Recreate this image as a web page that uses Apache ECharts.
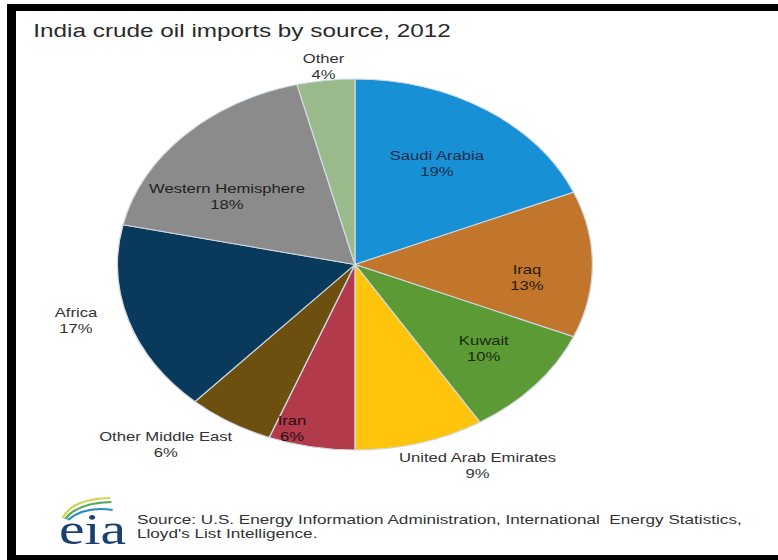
<!DOCTYPE html>
<html><head><meta charset="utf-8">
<script src="https://cdn.jsdelivr.net/npm/echarts@6/dist/echarts.min.js"></script>
<style>
html,body{margin:0;padding:0;background:#fff;}
#wrap{position:relative;width:778px;height:560px;overflow:hidden;background:#fff;}
#chart{position:absolute;left:0;top:0;width:608px;height:560px;transform:scaleX(1.28);transform-origin:0 0;}
.bar{position:absolute;background:#000;}
</style></head><body>
<div id="wrap"><div id="chart"></div>
<div class="bar" style="left:7px;top:4px;width:771px;height:7px"></div>
<div class="bar" style="left:7px;top:4px;width:9px;height:556px"></div>
<div class="bar" style="left:7px;top:555px;width:771px;height:5px"></div>
</div>
<script>
// ---- data ----
const categories = ['Saudi Arabia','Iraq','Kuwait','United Arab Emirates','Iran','Other Middle East','Africa','Western Hemisphere','Other'];
const shares = [19, 13, 10, 9, 6, 6, 17, 18, 4];
const titleText = 'India crude oil imports by source, 2012';
const sourceText = "Source: U.S. Energy Information Administration, International  Energy Statistics,\nLloyd's List Intelligence.";

// ---- styles ----
const colors = ['#1790d5','#c2762c','#5c9a35','#ffc40c','#b23a4b','#6d5010','#0a3a5b','#8b8b8b','#9aba8b'];
const labelColors = ['#1c2d4a','#2a1a0a','#1a2a10','#333','#2a1010','#333','#333','#222','#333'];
const labelRadius = [0.647, 0.728, 0.704, 1.20, 0.923, 1.254, 1.212, 0.652, 1.075];
const labelShift = [-1.3, 5.5, -1, -9.6, 6.1, 7.7, 3.4, -9.9, 0];
const CX = 277.3, CY = 264.5, R = 185.5;

const total = shares.reduce((a, b) => a + b, 0);
const mids = []; let acc = 0;
shares.forEach(v => { mids.push(acc + v / 2); acc += v; });

const chart = echarts.init(document.getElementById('chart'), null, {renderer: 'svg'});
chart.setOption({
  animation: false,
  backgroundColor: '#fff',
  title: {
    text: titleText, left: 21, top: 16,
    textStyle: {fontSize: 19, fontWeight: 'normal', color: '#2a2a2a', fontFamily: 'Liberation Sans, Arial, sans-serif'}
  },
  series: [{
    type: 'pie',
    center: [CX, CY],
    radius: [0, R],
    startAngle: 90,
    clockwise: true,
    avoidLabelOverlap: false,
    silent: true,
    itemStyle: {borderColor: '#cfd9e2', borderWidth: 1},
    label: {
      show: true, position: 'inside', formatter: '{b}\n{c}%',
      fontSize: 13, lineHeight: 16, fontFamily: 'Liberation Sans, Arial, sans-serif', color: '#222'
    },
    labelLine: {show: false},
    labelLayout: function (p) {
      const i = p.dataIndex;
      const ang = (mids[i] / total * 360 + labelShift[i]) * Math.PI / 180;
      const r = labelRadius[i] * R;
      return {x: CX + r * Math.sin(ang), y: CY - r * Math.cos(ang), align: 'center', verticalAlign: 'middle'};
    },
    data: categories.map((c, i) => ({
      name: c, value: shares[i],
      itemStyle: {color: colors[i]},
      label: {color: labelColors[i]}
    }))
  }],
  graphic: [
    {type: 'text', left: 107, top: 512, style: {text: sourceText, fontSize: 13.4, lineHeight: 14, fill: '#333', fontFamily: 'Liberation Sans, Arial, sans-serif'}},
    {type: 'text', x: 46, y: 529, style: {text: 'eia', fontSize: 45, fill: '#1c3f73', fontFamily: 'Liberation Serif, Times New Roman, serif', verticalAlign: 'middle', align: 'left'}},
    {type: 'bezierCurve', shape: {x1: 49, y1: 518, cpx1: 56, cpy1: 499, x2: 86, y2: 498}, style: {stroke: '#c9d84c', lineWidth: 2, fill: null}},
    {type: 'bezierCurve', shape: {x1: 51, y1: 519, cpx1: 60, cpy1: 503, x2: 87, y2: 502}, style: {stroke: '#5aa95a', lineWidth: 2, fill: null}},
    {type: 'bezierCurve', shape: {x1: 53, y1: 520, cpx1: 66, cpy1: 506, x2: 88, y2: 510}, style: {stroke: '#2a8fc8', lineWidth: 2, fill: null}}
  ]
});
</script>
</body></html>
